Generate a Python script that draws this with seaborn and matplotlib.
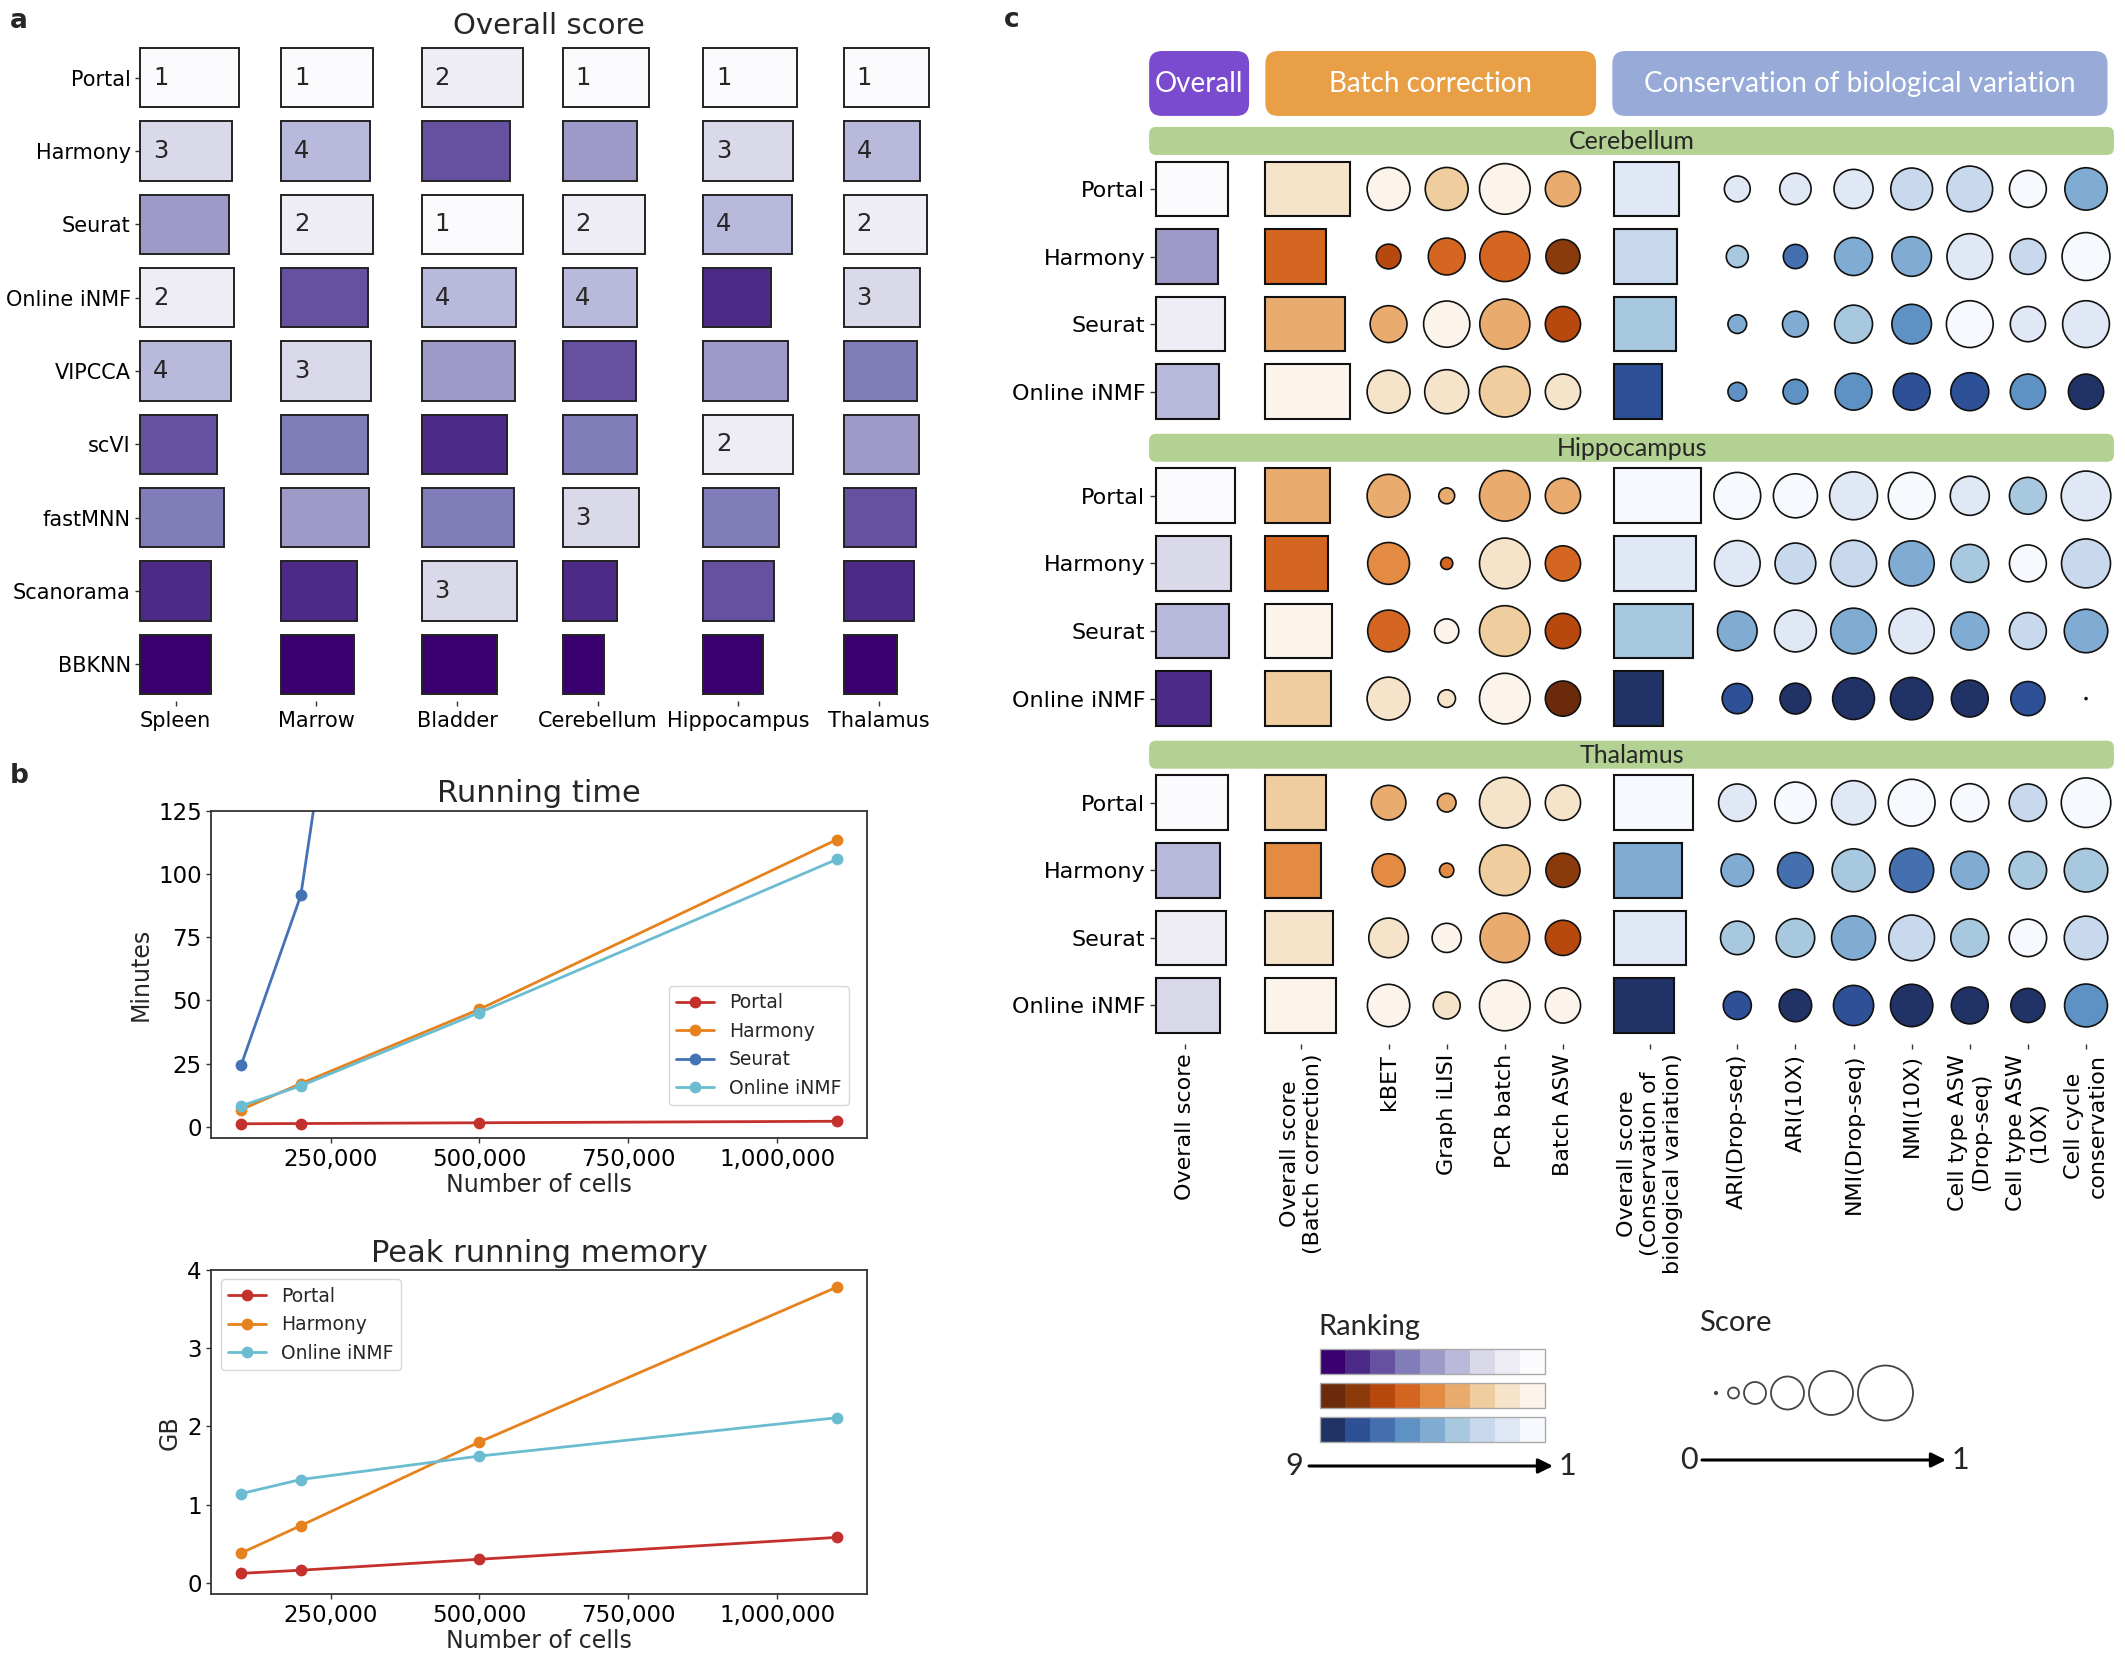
import matplotlib
matplotlib.use("Agg")
import matplotlib.pyplot as plt
import seaborn as sns
import numpy as np
import pandas as pd
from matplotlib.patches import FancyBboxPatch, Rectangle
from matplotlib.ticker import StrMethodFormatter

# ---------------- data ----------------
# panel a: overall score per dataset (bar width) and rank (colour)
methods_a = ["Portal", "Harmony", "Seurat", "Online iNMF", "VIPCCA", "scVI",
             "fastMNN", "Scanorama", "BBKNN"]
datasets_a = ["Spleen", "Marrow", "Bladder", "Cerebellum", "Hippocampus", "Thalamus"]
score_spleen = [0.93, 0.87, 0.84, 0.89, 0.86, 0.73, 0.79, 0.67, 0.67]
score_marrow = [0.87, 0.84, 0.87, 0.82, 0.85, 0.82, 0.83, 0.72, 0.69]
score_bladder = [0.96, 0.84, 0.96, 0.89, 0.88, 0.81, 0.87, 0.90, 0.71]
score_cerebellum = [0.82, 0.71, 0.78, 0.71, 0.70, 0.71, 0.72, 0.52, 0.39]
score_hippocampus = [0.89, 0.85, 0.84, 0.64, 0.80, 0.85, 0.72, 0.67, 0.57]
score_thalamus = [0.81, 0.72, 0.79, 0.72, 0.69, 0.71, 0.68, 0.66, 0.50]
rank_spleen = [1, 3, 5, 2, 4, 7, 6, 8, 9]
rank_marrow = [1, 4, 2, 7, 3, 6, 5, 8, 9]
rank_bladder = [2, 7, 1, 4, 5, 8, 6, 3, 9]
rank_cerebellum = [1, 5, 2, 4, 7, 6, 3, 8, 9]
rank_hippocampus = [1, 3, 4, 8, 5, 2, 6, 7, 9]
rank_thalamus = [1, 4, 2, 3, 6, 5, 7, 8, 9]
scores_a = [score_spleen, score_marrow, score_bladder, score_cerebellum,
            score_hippocampus, score_thalamus]
ranks_a = [rank_spleen, rank_marrow, rank_bladder, rank_cerebellum,
           rank_hippocampus, rank_thalamus]

# panel b: running time (minutes) and peak memory (GB)
cells = [100000, 200000, 500000, 1100000]
time_portal = [1.2, 1.3, 1.6, 2.2]
time_harmony = [6.8, 17.1, 46.5, 113.6]
time_seurat = [24.5, 91.5, 565.0]   # no run at 1.1M cells
time_inmf = [8.3, 16.2, 45.2, 105.8]
mem_portal = [0.12, 0.16, 0.30, 0.58]
mem_harmony = [0.38, 0.73, 1.80, 3.78]
mem_inmf = [1.14, 1.32, 1.62, 2.11]

# panel c: scores (size) and ranks (colour) per metric
methods_c = ["Portal", "Harmony", "Seurat", "Online iNMF"]
groups_c = ["Cerebellum", "Hippocampus", "Thalamus"]
metrics_c = ["Overall score", "Overall score\n(Batch correction)", "kBET", "Graph iLISI",
             "PCR batch", "Batch ASW",
             "Overall score\n(Conservation of\nbiological variation)",
             "ARI(Drop-seq)", "ARI(10X)", "NMI(Drop-seq)", "NMI(10X)",
             "Cell type ASW\n(Drop-seq)", "Cell type ASW\n(10X)", "Cell cycle\nconservation"]
cer_score = [[0.83, 0.97, 0.78, 0.78, 0.92, 0.64, 0.74, 0.47, 0.57, 0.71, 0.76, 0.83, 0.67, 0.77],
             [0.71, 0.70, 0.45, 0.67, 0.91, 0.62, 0.72, 0.40, 0.44, 0.69, 0.72, 0.83, 0.65, 0.87],
             [0.79, 0.91, 0.67, 0.84, 0.91, 0.64, 0.71, 0.34, 0.47, 0.69, 0.72, 0.85, 0.64, 0.85],
             [0.72, 0.97, 0.78, 0.80, 0.92, 0.64, 0.55, 0.34, 0.45, 0.67, 0.67, 0.69, 0.64, 0.64]]
cer_rank = [[1, 2, 1, 3, 1, 4, 2, 2, 2, 2, 3, 3, 1, 5],
            [5, 6, 7, 6, 6, 8, 3, 4, 7, 5, 5, 2, 3, 1],
            [2, 4, 4, 1, 4, 7, 4, 5, 5, 4, 6, 1, 2, 2],
            [4, 1, 2, 2, 3, 2, 8, 6, 6, 6, 8, 8, 6, 9]]
hip_score = [[0.90, 0.74, 0.78, 0.29, 0.92, 0.64, 1.00, 0.85, 0.80, 0.87, 0.85, 0.71, 0.67, 0.90],
             [0.86, 0.72, 0.76, 0.22, 0.92, 0.64, 0.94, 0.83, 0.74, 0.84, 0.82, 0.69, 0.67, 0.89],
             [0.84, 0.77, 0.76, 0.44, 0.92, 0.64, 0.90, 0.72, 0.76, 0.83, 0.82, 0.69, 0.67, 0.79],
             [0.63, 0.75, 0.78, 0.32, 0.92, 0.64, 0.56, 0.55, 0.56, 0.76, 0.77, 0.67, 0.62, 0.02]]
hip_rank = [[1, 4, 4, 4, 4, 4, 1, 1, 1, 2, 1, 2, 4, 2],
            [3, 6, 5, 6, 2, 6, 2, 2, 3, 3, 5, 4, 1, 3],
            [4, 1, 6, 1, 3, 7, 4, 5, 2, 5, 2, 5, 3, 5],
            [8, 3, 2, 2, 1, 9, 9, 8, 9, 9, 9, 9, 8, 9]]
tha_score = [[0.82, 0.69, 0.63, 0.34, 0.92, 0.64, 0.91, 0.68, 0.75, 0.80, 0.85, 0.69, 0.68, 0.90],
             [0.73, 0.64, 0.60, 0.26, 0.92, 0.62, 0.78, 0.59, 0.65, 0.78, 0.80, 0.69, 0.68, 0.79],
             [0.80, 0.78, 0.72, 0.53, 0.90, 0.64, 0.82, 0.61, 0.70, 0.80, 0.83, 0.69, 0.68, 0.79],
             [0.73, 0.81, 0.77, 0.49, 0.92, 0.64, 0.69, 0.51, 0.59, 0.73, 0.77, 0.67, 0.62, 0.78]]
tha_rank = [[1, 3, 4, 4, 2, 2, 1, 2, 1, 2, 1, 1, 3, 1],
            [4, 5, 5, 5, 3, 8, 5, 5, 7, 4, 7, 5, 4, 4],
            [2, 2, 2, 1, 4, 7, 2, 4, 4, 5, 3, 4, 1, 3],
            [3, 1, 1, 2, 1, 1, 9, 8, 9, 8, 9, 9, 9, 6]]
scores_c = [cer_score, hip_score, tha_score]
ranks_c = [cer_rank, hip_rank, tha_rank]

# colour ramps, darkest (rank 9) to lightest (rank 1)
purples = ["#3a0070", "#4d2a88", "#6650a0", "#807db8", "#9e9ac8", "#b9badb", "#d9d9ea", "#eeedf6", "#fbfbfd"]
oranges = ["#6b2a0a", "#8b3a0c", "#b8490e", "#d46622", "#e38b43", "#e9ab6e", "#f0cd9f", "#f6e4ca", "#fcf4ea"]
blues = ["#213366", "#2e5096", "#4470b0", "#5f92c4", "#80abd3", "#a8c8e0", "#c8d9ee", "#e0e8f5", "#f6f9fd"]
line_colors = {"Portal": "#c4302b", "Harmony": "#e6821e", "Seurat": "#4472b4", "Online iNMF": "#6bbcd0"}

# ---------------- style ----------------
sns.set_theme(style="ticks")
plt.rcParams["font.family"] = ["DejaVu Sans"]
plt.rcParams["axes.edgecolor"] = "#333333"
plt.rcParams["xtick.color"] = "#333333"
plt.rcParams["ytick.color"] = "#333333"
plt.rcParams["xtick.labelcolor"] = "black"
plt.rcParams["ytick.labelcolor"] = "black"
for ax_name in ["xtick", "ytick"]:
    plt.rcParams[ax_name + ".major.size"] = 3.5
    plt.rcParams[ax_name + ".major.pad"] = 3.5
    plt.rcParams[ax_name + ".major.width"] = 1.0

fig = plt.figure(figsize=(21.25, 16.54), dpi=100)

# ---------------- panel a ----------------
ax_a = fig.add_axes([0.0661, 0.5762, 0.384, 0.3954])
for j in range(len(datasets_a)):
    sc = np.array(scores_a[j])
    rk = ranks_a[j]
    bars = ax_a.barh(np.arange(len(methods_a)), sc * 0.75, left=j - 0.25, height=0.81,
                     color=[purples[9 - r] for r in rk], edgecolor="#222222", linewidth=1.4)
    for b in bars:
        b.set_clip_on(False)
    for i, r in enumerate(rk):
        if r <= 4:
            ax_a.text(j - 0.25 + 0.09, i, str(r), ha="left", va="center", fontsize=17.5)
ax_a.set_xlim(-0.25, 5.55)
ax_a.set_ylim(8.5, -0.42)
ax_a.set_xticks(range(len(datasets_a)))
ax_a.set_xticklabels(datasets_a, fontsize=15)
ax_a.set_yticks(range(len(methods_a)))
ax_a.set_yticklabels(methods_a, fontsize=15)
sns.despine(ax=ax_a, left=True, bottom=True)
ax_a.set_title("Overall score", fontsize=21, pad=9)

# ---------------- panel b ----------------
rows = []
for name, vals in [("Portal", time_portal), ("Harmony", time_harmony),
                   ("Seurat", time_seurat), ("Online iNMF", time_inmf)]:
    for c, v in zip(cells, vals):
        rows.append((name, c, v))
df_time = pd.DataFrame(rows, columns=["method", "cells", "value"])
rows = []
for name, vals in [("Portal", mem_portal), ("Harmony", mem_harmony), ("Online iNMF", mem_inmf)]:
    for c, v in zip(cells, vals):
        rows.append((name, c, v))
df_mem = pd.DataFrame(rows, columns=["method", "cells", "value"])

ax_t = fig.add_axes([0.0995, 0.3117, 0.3083, 0.1981])
ax_m = fig.add_axes([0.0995, 0.0360, 0.3083, 0.1962])
for ax, df, title, ylab in [(ax_t, df_time, "Running time", "Minutes"),
                            (ax_m, df_mem, "Peak running memory", "GB")]:
    order = list(dict.fromkeys(df["method"]))
    sns.lineplot(data=df, x="cells", y="value", hue="method", hue_order=order,
                 palette=line_colors, marker="o", markersize=8.5, markeredgewidth=0,
                 linewidth=2, errorbar=None, legend=False, ax=ax)
    ax.set_title(title, fontsize=22)
    ax.set_xlabel("Number of cells", fontsize=17, labelpad=1)
    ax.set_ylabel(ylab, fontsize=17)
    ax.set_xlim(50000, 1150000)
    ax.set_xticks([250000, 500000, 750000, 1000000])
    ax.xaxis.set_major_formatter(StrMethodFormatter("{x:,.0f}"))
    ax.tick_params(labelsize=16.5)
    for s in ax.spines.values():
        s.set_visible(True)
        s.set_linewidth(1.3)
ax_t.set_ylim(-4.6, 125)
ax_t.set_yticks([0, 25, 50, 75, 100, 125])
ax_t.legend(ax_t.lines, ["Portal", "Harmony", "Seurat", "Online iNMF"], fontsize=13.5,
            loc="lower right", bbox_to_anchor=(0.973, 0.102), borderaxespad=0,
            edgecolor="#cccccc")
ax_m.set_ylim(-0.15, 4)
ax_m.set_yticks([0, 1, 2, 3, 4])
ax_m.legend(ax_m.lines, ["Portal", "Harmony", "Online iNMF"], fontsize=13.5,
            loc="upper left", edgecolor="#cccccc")

# ---------------- panel c ----------------
ax_c = fig.add_axes([0.5435, 0.3688, 0.4532, 0.6028])
col_x = [0, 2, 3.5, 4.5, 5.5, 6.5, 8, 9.5, 10.5, 11.5, 12.5, 13.5, 14.5, 15.5]
col_pal = [purples] + [oranges] * 5 + [blues] * 8
square_cols = {0: 0.5, 1: 0.62, 6: 0.62}
group_gap = 4.54
ytick_pos, ytick_lab = [], []
for g, grp in enumerate(groups_c):
    y0 = g * group_gap
    band = FancyBboxPatch((-0.62, y0 - 0.917), 16.6, 0.414,
                          boxstyle="round,pad=0,rounding_size=0.12", mutation_aspect=0.86,
                          fc="#b3d193", ec="none", clip_on=False)
    ax_c.add_patch(band)
    ax_c.text(7.68, y0 - 0.70, grp, ha="center", va="center", fontsize=18, family="Lato")
    sc = np.array(scores_c[g])
    rk = np.array(ranks_c[g])
    ys = y0 + np.arange(len(methods_c))
    ytick_pos += list(ys)
    ytick_lab += methods_c
    for k in range(len(metrics_c)):
        cols = [col_pal[k][9 - r] for r in rk[:, k]]
        if k in square_cols:
            bars = ax_c.barh(ys, sc[:, k] * 1.5, left=col_x[k] - square_cols[k], height=0.81,
                             color=cols, edgecolor="#111111", linewidth=1.5)
            for b in bars:
                b.set_clip_on(False)
        else:
            ax_c.scatter(np.full(len(ys), col_x[k]), ys,
                         s=np.maximum((39.6 * sc[:, k]) ** 2, 2), c=cols,
                         edgecolors="#111111", linewidths=1.2, zorder=3, clip_on=False)

headers = [("Overall", -0.62, 1.10, "#7a4bcf"),
           ("Batch correction", 1.38, 7.07, "#e89f46"),
           ("Conservation of biological variation", 7.35, 15.87, "#97aad8")]
for txt, x0, x1, col in headers:
    box = FancyBboxPatch((x0, -2.04), x1 - x0, 0.96,
                         boxstyle="round,pad=0,rounding_size=0.22", mutation_aspect=0.86,
                         fc=col, ec="none", clip_on=False)
    ax_c.add_patch(box)
    ax_c.text((x0 + x1) / 2, -1.55, txt, ha="center", va="center", color="white",
              fontsize=20, family="Lato")

ax_c.set_xlim(-0.52, 16.05)
ax_c.set_ylim(12.65, -2.1)
ax_c.set_yticks(ytick_pos)
ax_c.set_yticklabels(ytick_lab, fontsize=16)
ax_c.set_xticks(col_x)
ax_c.set_xticklabels(metrics_c, rotation=90, fontsize=16, multialignment="center")
sns.despine(ax=ax_c, left=True, bottom=True)

# ---------------- overlay: panel letters and panel c legends ----------------
ov = fig.add_axes([0, 0, 1, 1], zorder=-1)
ov.set_xlim(0, 2125)
ov.set_ylim(1654, 0)
ov.axis("off")
for letter, x, y in [("a", 10, 21), ("b", 10, 776), ("c", 1004, 20)]:
    ov.text(x, y, letter, fontsize=19, fontweight="bold", ha="left", va="center")

ov.text(1318, 1327, "Ranking", fontsize=21, family="Lato", ha="left", va="center")
for row, pal in enumerate([purples, oranges, blues]):
    ytop = 1349 + row * 34
    for i, col in enumerate(pal):
        ov.add_patch(Rectangle((1319.5 + i * 25, ytop), 25, 25, fc=col, ec="none"))
    ov.add_patch(Rectangle((1319.5, ytop), 225, 25, fc="none", ec="#aaaaaa", lw=1))
ov.annotate("", xy=(1553, 1466), xytext=(1309, 1466),
            arrowprops=dict(arrowstyle="-|>", lw=2.2, color="black", mutation_scale=22,
                            shrinkA=0, shrinkB=0))
ov.text(1294, 1466, "9", fontsize=22, family="Lato", ha="center", va="center")
ov.text(1567, 1466, "1", fontsize=22, family="Lato", ha="center", va="center")

ov.text(1699, 1323, "Score", fontsize=21, family="Lato", ha="left", va="center")
legend_scores = [0, 0.2, 0.4, 0.6, 0.8, 1.0]
cx = 1716.0
prev = 0.0
for s in legend_scores:
    d = 55 * s
    cx = cx + prev / 2 + d / 2 + (5 if prev > 0 else 0)
    ov.scatter([cx], [1393], s=max((39.6 * s) ** 2, 3), facecolors="none",
               edgecolors="#444444", linewidths=1.3)
    prev = d if d > 0 else 14
ov.annotate("", xy=(1946, 1460), xytext=(1702, 1460),
            arrowprops=dict(arrowstyle="-|>", lw=2.2, color="black", mutation_scale=22,
                            shrinkA=0, shrinkB=0))
ov.text(1689, 1460, "0", fontsize=22, family="Lato", ha="center", va="center")
ov.text(1960, 1460, "1", fontsize=22, family="Lato", ha="center", va="center")

fig.savefig("out.png", dpi=100)
